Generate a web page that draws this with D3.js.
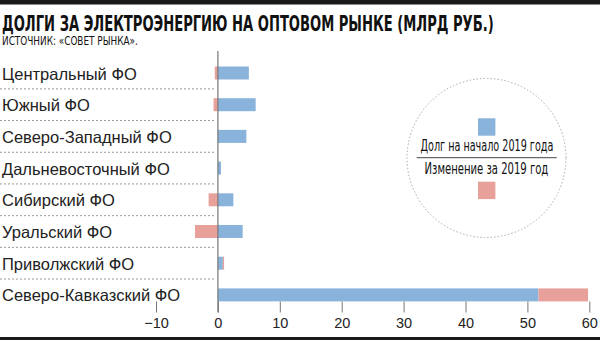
<!DOCTYPE html>
<html><head><meta charset="utf-8">
<script src="https://cdn.jsdelivr.net/npm/d3@7"></script>
<style>
html,body{margin:0;padding:0;background:#fff;}
svg{display:block;}
</style></head>
<body>
<script>
const title = "ДОЛГИ ЗА ЭЛЕКТРОЭНЕРГИЮ НА ОПТОВОМ РЫНКЕ (МЛРД РУБ.)";
const source = "ИСТОЧНИК: «СОВЕТ РЫНКА».";
const regions = ["Центральный ФО","Южный ФО","Северо-Западный ФО","Дальневосточный ФО","Сибирский ФО","Уральский ФО","Приволжский ФО","Северо-Кавказский ФО"];
const debt   = [5.0, 6.1, 4.6, 0.5, 2.5, 4.0, 0.8, 51.8];
const change = [-0.5, -0.7, 0, 0, -1.5, -3.7, 0.2, 8.0];
const tickValues = [-10, 0, 10, 20, 30, 40, 50, 60];
const legendLabels = ["Долг на начало 2019 года", "Изменение за 2019 год"];

const W = 600, H = 340;
const blue = "#89b3da", red = "#e8a09b";
const condensed = "'Liberation Sans Narrow','DejaVu Sans Condensed','Roboto Condensed',sans-serif";
const sans = "'Liberation Sans',Arial,Helvetica,sans-serif";

const svg = d3.select("body").append("svg").attr("width", W).attr("height", H);

// frame bars
svg.append("rect").attr("x",0).attr("y",0).attr("width",W).attr("height",4.5).attr("fill","#1a1a1a");
svg.append("rect").attr("x",0).attr("y",337).attr("width",W).attr("height",3).attr("fill","#1a1a1a");

// fit a text horizontally to a target width by scaling (keeps it real text)
function fitText(sel, x0, y0, target) {
  const w = sel.node().getComputedTextLength();
  const s = target / w;
  sel.attr("x", 0).attr("y", 0);
  sel.attr("transform", `translate(${x0},${y0}) scale(${s},1)`);
}

const t1 = svg.append("text").text(title)
  .attr("font-family",condensed).attr("font-weight","bold").attr("font-size",20.5).attr("fill","#111");
fitText(t1, 2, 30.5, 492);
const t2 = svg.append("text").text(source)
  .attr("font-family",condensed).attr("font-size",12.5).attr("fill","#111");
fitText(t2, 2, 45, 136);

const x = d3.scaleLinear().domain([-10, 60]).range([156, 589.3]);
const y = d3.scaleBand().domain(regions).range([57.15, 310.75]).paddingInner(0.59).paddingOuter(0.295);

const rows = regions.map((r,i)=>({r, debt: debt[i], change: change[i]}));

// separators
svg.append("g").selectAll("line").data(regions.slice(0,-1)).join("line")
  .attr("x1",0).attr("x2",215)
  .attr("y1",d=>y(d)+y.bandwidth()/2+y.step()/2).attr("y2",d=>y(d)+y.bandwidth()/2+y.step()/2)
  .attr("stroke","#999").attr("stroke-width",1).attr("stroke-dasharray","2,2");

// labels
svg.append("g").selectAll("text").data(regions).join("text")
  .attr("x",2).attr("y",d=>y(d)+y.bandwidth()/2+6.5)
  .attr("font-family",sans).attr("font-size",16.5).attr("fill","#222").text(d=>d);

// blue bars
svg.append("g").selectAll("rect").data(rows).join("rect")
  .attr("x",x(0)).attr("width",d=>x(d.debt)-x(0))
  .attr("y",d=>y(d.r)).attr("height",y.bandwidth()).attr("fill",blue);

// red bars
svg.append("g").selectAll("rect").data(rows.filter(d=>d.change!==0)).join("rect")
  .attr("x",d=>d.change<0 ? x(d.change) : x(d.debt))
  .attr("width",d=>Math.abs(x(d.change)-x(0)))
  .attr("y",d=>y(d.r)).attr("height",y.bandwidth()).attr("fill",red);

// axis
const axis = d3.axisBottom(x).tickValues(tickValues).tickSize(11).tickPadding(5)
  .tickFormat(d=>d<0 ? "\u2212"+Math.abs(d) : d);
const ag = svg.append("g").attr("transform","translate(0,301.5)").call(axis);
ag.select(".domain").remove();
ag.selectAll(".tick line").attr("stroke","#777");
ag.selectAll(".tick text").attr("font-family",sans).attr("font-size",14.5).attr("fill","#222");

// zero line
svg.append("line").attr("x1",x(0)).attr("x2",x(0)).attr("y1",51).attr("y2",312.5)
  .attr("stroke","#777").attr("stroke-width",1.2);

// legend
const lg = svg.append("g");
const cx = 486.5, cy = 158;
lg.append("circle").attr("cx",cx).attr("cy",cy).attr("r",79.5).attr("fill","none")
  .attr("stroke","#aaa").attr("stroke-width",1).attr("stroke-dasharray","1.5,2");
lg.append("rect").attr("x",cx-8.5).attr("y",118.3).attr("width",17.4).attr("height",17.4).attr("fill",blue);
lg.append("rect").attr("x",cx-8.5).attr("y",181.7).attr("width",17.4).attr("height",17.4).attr("fill",red);
lg.append("line").attr("x1",416.7).attr("x2",556.7).attr("y1",157.7).attr("y2",157.7).attr("stroke","#444").attr("stroke-width",1);
const l1 = lg.append("text").text(legendLabels[0])
  .attr("font-family",condensed).attr("font-size",15).attr("fill","#111");
fitText(l1, 420.5, 150.7, 133);
const l2 = lg.append("text").text(legendLabels[1])
  .attr("font-family",condensed).attr("font-size",15).attr("fill","#111");
fitText(l2, 424.5, 174.3, 124);
</script>
</body></html>
